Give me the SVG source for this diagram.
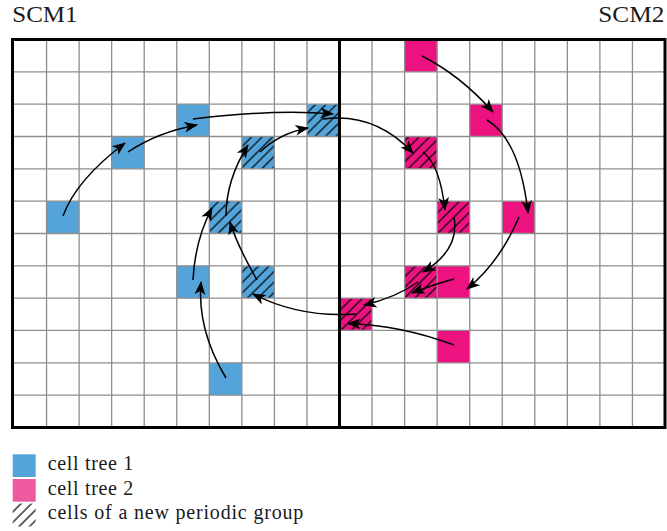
<svg xmlns="http://www.w3.org/2000/svg" width="667" height="531" viewBox="0 0 667 531">
<style>
.blue{fill:#54A4D9}
.pink{fill:#EC1380}
.hatch{fill:url(#hl)}
.grid{stroke:#8e8e8e;stroke-width:1.3;fill:none}
.frame{stroke:#000;stroke-width:3;fill:none}
.arr{stroke:#000;stroke-width:1.5;fill:none;marker-end:url(#stealth)}
.lbl{font-family:"Liberation Serif","DejaVu Serif",serif;fill:#1a1a1a}
</style>
<defs>
<pattern id="hl" patternUnits="userSpaceOnUse" width="7.4" height="10" patternTransform="rotate(45)">
<line x1="1" y1="0" x2="1" y2="10" stroke="#000" stroke-width="1.2"/>
</pattern>
<marker id="stealth" markerUnits="userSpaceOnUse" markerWidth="18" markerHeight="14" viewBox="-15 -7 18 14" refX="0" refY="0" orient="auto">
<path d="M1,0 L-12.5,-5.4 L-9,0 L-12.5,5.4 Z" fill="#000"/>
</marker>
</defs>
<text class="lbl" x="12.3" y="21.7" font-size="24" textLength="65.3" lengthAdjust="spacingAndGlyphs">SCM1</text>
<text class="lbl" x="598.3" y="21.7" font-size="24" textLength="66" lengthAdjust="spacingAndGlyphs">SCM2</text>
<g id="cells-tree1">
<g id="c1-5"><rect class="blue" x="46.55" y="201.15" width="32.55" height="32.33"/></g>
<g id="c3-3"><rect class="blue" x="111.65" y="136.49" width="32.55" height="32.33"/></g>
<g id="c5-2"><rect class="blue" x="176.75" y="104.16" width="32.55" height="32.33"/></g>
<g id="c6-10"><rect class="blue" x="209.3" y="362.8" width="32.55" height="32.33"/></g>
<g id="c5-7"><rect class="blue" x="176.75" y="265.81" width="32.55" height="32.33"/></g>
<g id="c9-2"><rect class="blue" x="306.95" y="104.16" width="32.55" height="32.33"/><rect class="hatch" x="306.95" y="104.16" width="32.55" height="32.33"/></g>
<g id="c7-3"><rect class="blue" x="241.85" y="136.49" width="32.55" height="32.33"/><rect class="hatch" x="241.85" y="136.49" width="32.55" height="32.33"/></g>
<g id="c6-5"><rect class="blue" x="209.3" y="201.15" width="32.55" height="32.33"/><rect class="hatch" x="209.3" y="201.15" width="32.55" height="32.33"/></g>
<g id="c7-7"><rect class="blue" x="241.85" y="265.81" width="32.55" height="32.33"/><rect class="hatch" x="241.85" y="265.81" width="32.55" height="32.33"/></g>
</g>
<g id="cells-tree2">
<g id="c12-0"><rect class="pink" x="404.6" y="39.5" width="32.55" height="32.33"/></g>
<g id="c14-2"><rect class="pink" x="469.7" y="104.16" width="32.55" height="32.33"/></g>
<g id="c15-5"><rect class="pink" x="502.25" y="201.15" width="32.55" height="32.33"/></g>
<g id="c13-7"><rect class="pink" x="437.15" y="265.81" width="32.55" height="32.33"/></g>
<g id="c13-9"><rect class="pink" x="437.15" y="330.47" width="32.55" height="32.33"/></g>
<g id="c12-3"><rect class="pink" x="404.6" y="136.49" width="32.55" height="32.33"/><rect class="hatch" x="404.6" y="136.49" width="32.55" height="32.33"/></g>
<g id="c13-5"><rect class="pink" x="437.15" y="201.15" width="32.55" height="32.33"/><rect class="hatch" x="437.15" y="201.15" width="32.55" height="32.33"/></g>
<g id="c12-7"><rect class="pink" x="404.6" y="265.81" width="32.55" height="32.33"/><rect class="hatch" x="404.6" y="265.81" width="32.55" height="32.33"/></g>
<g id="c10-8"><rect class="pink" x="339.5" y="298.14" width="32.55" height="32.33"/><rect class="hatch" x="339.5" y="298.14" width="32.55" height="32.33"/></g>
</g>
<g id="grid">
<path class="grid" d="M46.55,39.5V427.5M79.1,39.5V427.5M111.65,39.5V427.5M144.2,39.5V427.5M176.75,39.5V427.5M209.3,39.5V427.5M241.85,39.5V427.5M274.4,39.5V427.5M306.95,39.5V427.5M372.05,39.5V427.5M404.6,39.5V427.5M437.15,39.5V427.5M469.7,39.5V427.5M502.25,39.5V427.5M534.8,39.5V427.5M567.35,39.5V427.5M599.9,39.5V427.5M632.45,39.5V427.5M12.5,71.83H665M12.5,104.16H665M12.5,136.49H665M12.5,168.82H665M12.5,201.15H665M12.5,233.48H665M12.5,265.81H665M12.5,298.14H665M12.5,330.47H665M12.5,362.8H665M12.5,395.13H665"/>
<rect class="frame" x="12.5" y="39.5" width="652.5" height="388"/>
<line class="frame" x1="339.5" y1="39.5" x2="339.5" y2="427.5"/>
</g>
<g id="connectors">
<path class="arr" d="M63,216 Q76,180 125,143"/>
<path class="arr" d="M128,152 Q158,132 197,125"/>
<path class="arr" d="M193,119 Q275,109 333,114"/>
<path class="arr" d="M260,152 Q280,133 308,128"/>
<path class="arr" d="M226,216 Q226,180 248,145"/>
<path class="arr" d="M193,280 Q195,240 212,208"/>
<path class="arr" d="M257,280 Q237,245 230,222"/>
<path class="arr" d="M226,378 Q197,330 201,282"/>
<path class="arr" d="M356,314 Q300,318 253,294"/>
<path class="arr" d="M422,56 Q460,75 493,112"/>
<path class="arr" d="M487,120 Q520,140 528,213"/>
<path class="arr" d="M423,152 Q440,165 445,210"/>
<path class="arr" d="M323,119 Q375,112 413,153"/>
<path class="arr" d="M454,217 Q460,250 423,272"/>
<path class="arr" d="M519,217 Q500,262 467,289"/>
<path class="arr" d="M454,279 Q435,284 412,293"/>
<path class="arr" d="M418,282 Q395,298 364,305"/>
<path class="arr" d="M454,345 Q400,325 348,323.5"/>
</g>
<g id="legend">
<rect class="blue" x="12.7" y="454.3" width="23" height="22.7"/>
<rect x="12.7" y="479" width="23" height="22.7" fill="#EE5AA0"/>
<rect class="hatch" x="12.7" y="503.5" width="23" height="23"/>
<text class="lbl" x="47.7" y="470" font-size="20" textLength="85.6">cell tree 1</text>
<text class="lbl" x="47.7" y="494.5" font-size="20" textLength="85.6">cell tree 2</text>
<text class="lbl" x="47.7" y="518.5" font-size="20" textLength="255.6">cells of a new periodic group</text>
</g>
</svg>
